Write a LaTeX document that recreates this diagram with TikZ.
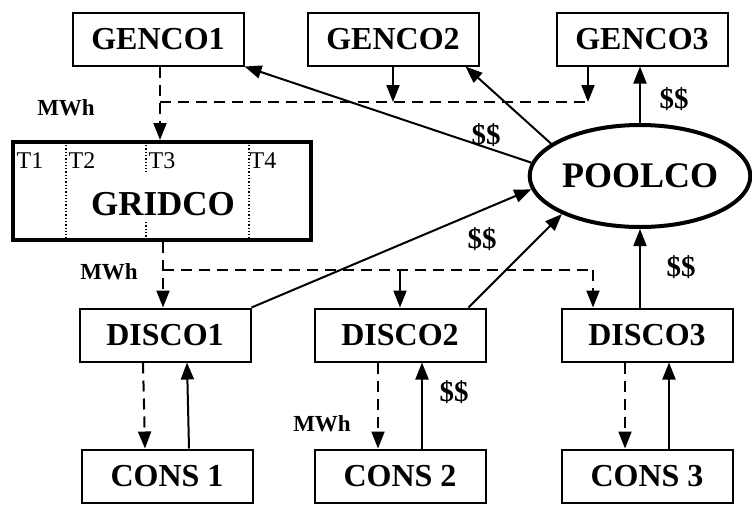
\documentclass[tikz,border=0pt]{standalone}
\usepackage{fontspec}
\setmainfont{Liberation Serif}
\usetikzlibrary{shapes.geometric,arrows.meta}

\tikzset{
  market/.style={draw, line width=2pt, minimum width=171pt, minimum height=53pt,
    inner sep=0pt, font=\bfseries\fontsize{32}{32}\selectfont},
  flow/.style={line width=2pt, -{Triangle[length=17pt,width=13pt]}},
  energy/.style={line width=2pt, dash pattern=on 11pt off 7pt},
  tag/.style={inner sep=0pt, font=\bfseries\fontsize{23}{23}\selectfont},
  pay/.style={inner sep=0pt, font=\bfseries\fontsize{29}{29}\selectfont},
}

\begin{document}
\begin{tikzpicture}[x=1pt,y=-1pt]
    \useasboundingbox (0,0) rectangle (752,504);

    % Generators
    \node[market] (genA) at (158,39) {GENCO1};
    \node[market] (genB) at (393,39) {GENCO2};
    \node[market] (genC) at (642,39) {GENCO3};

    % Grid company
    \node[draw, line width=4pt, minimum width=298pt, minimum height=98pt, inner sep=0pt] (grid) at (162,191) {};
    \node[inner sep=0pt, font=\bfseries\fontsize{35}{35}\selectfont] (gridName) at (163,204) {GRIDCO};
    \foreach \x/\t in {30/T1, 82/T2, 162/T3, 263/T4}
        \node[inner sep=0pt, font=\fontsize{24}{24}\selectfont] (slot\t) at (\x,161) {\t};
    \draw[dotted, line width=1.3pt] (66,145) -- (66,238);
    \draw[dotted, line width=1.3pt] (249,145) -- (249,238);
    \draw[dotted, line width=1.3pt] (146,145) -- (146,172) (146,222) -- (146,238);

    % Pool
    \node[ellipse, draw, line width=4pt, minimum width=218pt, minimum height=102pt, inner sep=0pt,
        font=\bfseries\fontsize{36}{36}\selectfont] (pool) at (640,176) {POOLCO};

    % Distribution companies
    \node[market] (discoA) at (165,335) {DISCO1};
    \node[market] (discoB) at (400,335) {DISCO2};
    \node[market] (discoC) at (647,335) {DISCO3};

    % Consumers
    \node[market] (consA) at (167,476) {CONS 1};
    \node[market] (consB) at (400,476) {CONS 2};
    \node[market] (consC) at (647,476) {CONS 3};

    % Energy bus lines
    \coordinate (busTop) at (160,102);
    \coordinate (busTopEnd) at (588,102);
    \coordinate (busLow) at (163,270);
    \coordinate (busLowEnd) at (593,270);

    % Energy from generators to grid
    \draw[energy, flow] (busTop |- genA.south) -- (busTop |- grid.north);
    \draw[energy] (busTop) -- (busTopEnd);
    \draw[flow] (genB.south) -- (genB.south |- busTop);
    \draw[flow] (busTopEnd |- genC.south) -- (busTopEnd);

    % Energy from grid to distribution
    \draw[energy, flow] (busLow |- grid.south) -- (busLow |- discoA.north);
    \draw[energy] (busLow) -- (busLowEnd);
    \draw[flow] (discoB.north |- busLow) -- (discoB.north);
    \draw[energy, flow] (busLowEnd) -- (busLowEnd |- discoC.north);

    % Money through the pool
    \draw[flow] (pool.173) -- (genA.south east);
    \draw[flow] (pool.160) -- ([xshift=-14pt]genB.south east);
    \draw[flow] (pool.north) -- (pool.north |- genC.south);
    \draw[flow] (discoA.north east) -- (pool.187);
    \draw[flow] ([xshift=-18pt]discoB.north east) -- (pool.206);
    \draw[flow] (pool.south |- discoC.north) -- (pool.south);

    % Distribution to consumers
    \foreach \d/\c in {discoA/consA, discoB/consB, discoC/consC} {
        \draw[energy, flow] ([xshift=-22pt]\d.south) -- ([xshift=-22pt]\c.north);
        \draw[flow] ([xshift=22pt]\c.north) -- ([xshift=22pt]\d.south);
    }

    % Labels
    \node[tag] (mwhA) at (66,108) {MWh};
    \node[tag] (mwhB) at (109,272) {MWh};
    \node[tag] (mwhC) at (322,424) {MWh};
    \node[pay] (payA) at (486,135) {\$\$};
    \node[pay] (payB) at (674,99) {\$\$};
    \node[pay] (payC) at (482,239) {\$\$};
    \node[pay] (payD) at (681,267) {\$\$};
    \node[pay] (payE) at (454,392) {\$\$};
\end{tikzpicture}
\end{document}
